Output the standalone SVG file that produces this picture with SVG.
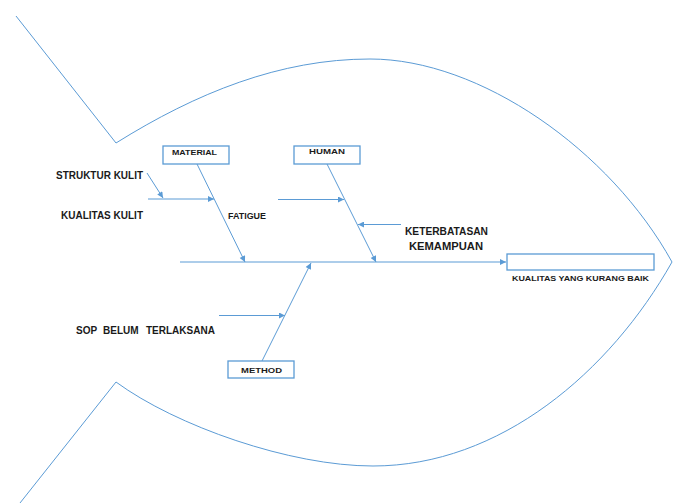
<svg xmlns="http://www.w3.org/2000/svg" width="677" height="503" viewBox="0 0 677 503">
<style>
.ln{stroke:#5B9BD5;stroke-width:1;fill:none}
.bx{stroke:#5B9BD5;stroke-width:1.3;fill:#fff}
.t{font-family:"Liberation Sans",Arial,sans-serif;font-weight:bold;fill:#1a1a1a}
.s8{font-size:8px}
.s10{font-size:10px}
.s9{font-size:9px}
</style>
<defs>
<marker id="ah" viewBox="0 0 10 10" refX="10" refY="5" markerWidth="7" markerHeight="6" orient="auto" markerUnits="userSpaceOnUse">
<path d="M0,0 L10,5 L0,10 z" fill="#5B9BD5"/>
</marker>
</defs>
<g id="fish">
<path class="ln" d="M16,16 L116,143 C196,93 280,59 370,59 C480,59 610,150 672,262 C610,372 500,466 373,466 C290,466 176,426 116,382 L20,503"/>
</g>
<g id="connectors">
<line class="ln" x1="180" y1="262" x2="506" y2="262" marker-end="url(#ah)"/>
<line class="ln" x1="197" y1="164" x2="245" y2="262" marker-end="url(#ah)"/>
<line class="ln" x1="327" y1="164" x2="376" y2="262" marker-end="url(#ah)"/>
<line class="ln" x1="262" y1="361" x2="311" y2="263" marker-end="url(#ah)"/>
<line class="ln" x1="148" y1="199" x2="214" y2="199" marker-end="url(#ah)"/>
<line class="ln" x1="147" y1="173" x2="163" y2="198" marker-end="url(#ah)"/>
<line class="ln" x1="278" y1="199.5" x2="344" y2="199.5" marker-end="url(#ah)"/>
<line class="ln" x1="401" y1="224.5" x2="358" y2="224.5" marker-end="url(#ah)"/>
<line class="ln" x1="219" y1="315.5" x2="285" y2="315.5" marker-end="url(#ah)"/>
</g>
<g id="effect">
<rect class="bx" x="507" y="254" width="147" height="16"/>
<text class="t s8" x="512" y="281" textLength="137" lengthAdjust="spacingAndGlyphs">KUALITAS YANG KURANG BAIK</text>
</g>
<g id="material">
<rect class="bx" x="163" y="146" width="66" height="18"/>
<text class="t s8" x="172" y="154.5" textLength="45" lengthAdjust="spacingAndGlyphs">MATERIAL</text>
</g>
<g id="human">
<rect class="bx" x="294" y="146" width="66" height="18"/>
<text class="t s8" x="309" y="154" textLength="36" lengthAdjust="spacingAndGlyphs">HUMAN</text>
</g>
<g id="method">
<rect class="bx" x="228" y="361" width="66" height="17"/>
<text class="t s8" x="241" y="372.5" textLength="41" lengthAdjust="spacingAndGlyphs">METHOD</text>
</g>
<g id="struktur-kulit">
<text class="t s10" x="56" y="178.5" textLength="87" lengthAdjust="spacingAndGlyphs">STRUKTUR KULIT</text>
</g>
<g id="kualitas-kulit">
<text class="t s10" x="61" y="219" textLength="82" lengthAdjust="spacingAndGlyphs">KUALITAS KULIT</text>
</g>
<g id="fatigue">
<text class="t s9" x="228" y="219" textLength="38" lengthAdjust="spacingAndGlyphs">FATIGUE</text>
</g>
<g id="keterbatasan">
<text class="t s10" x="405" y="234.5" textLength="83" lengthAdjust="spacingAndGlyphs">KETERBATASAN</text>
<text class="t s10" x="409" y="249.5" textLength="74" lengthAdjust="spacingAndGlyphs">KEMAMPUAN</text>
</g>
<g id="sop">
<text class="t s10" y="333.5"><tspan x="76">SOP</tspan><tspan x="103">BELUM</tspan><tspan x="146">TERLAKSANA</tspan></text>
</g>
</svg>
